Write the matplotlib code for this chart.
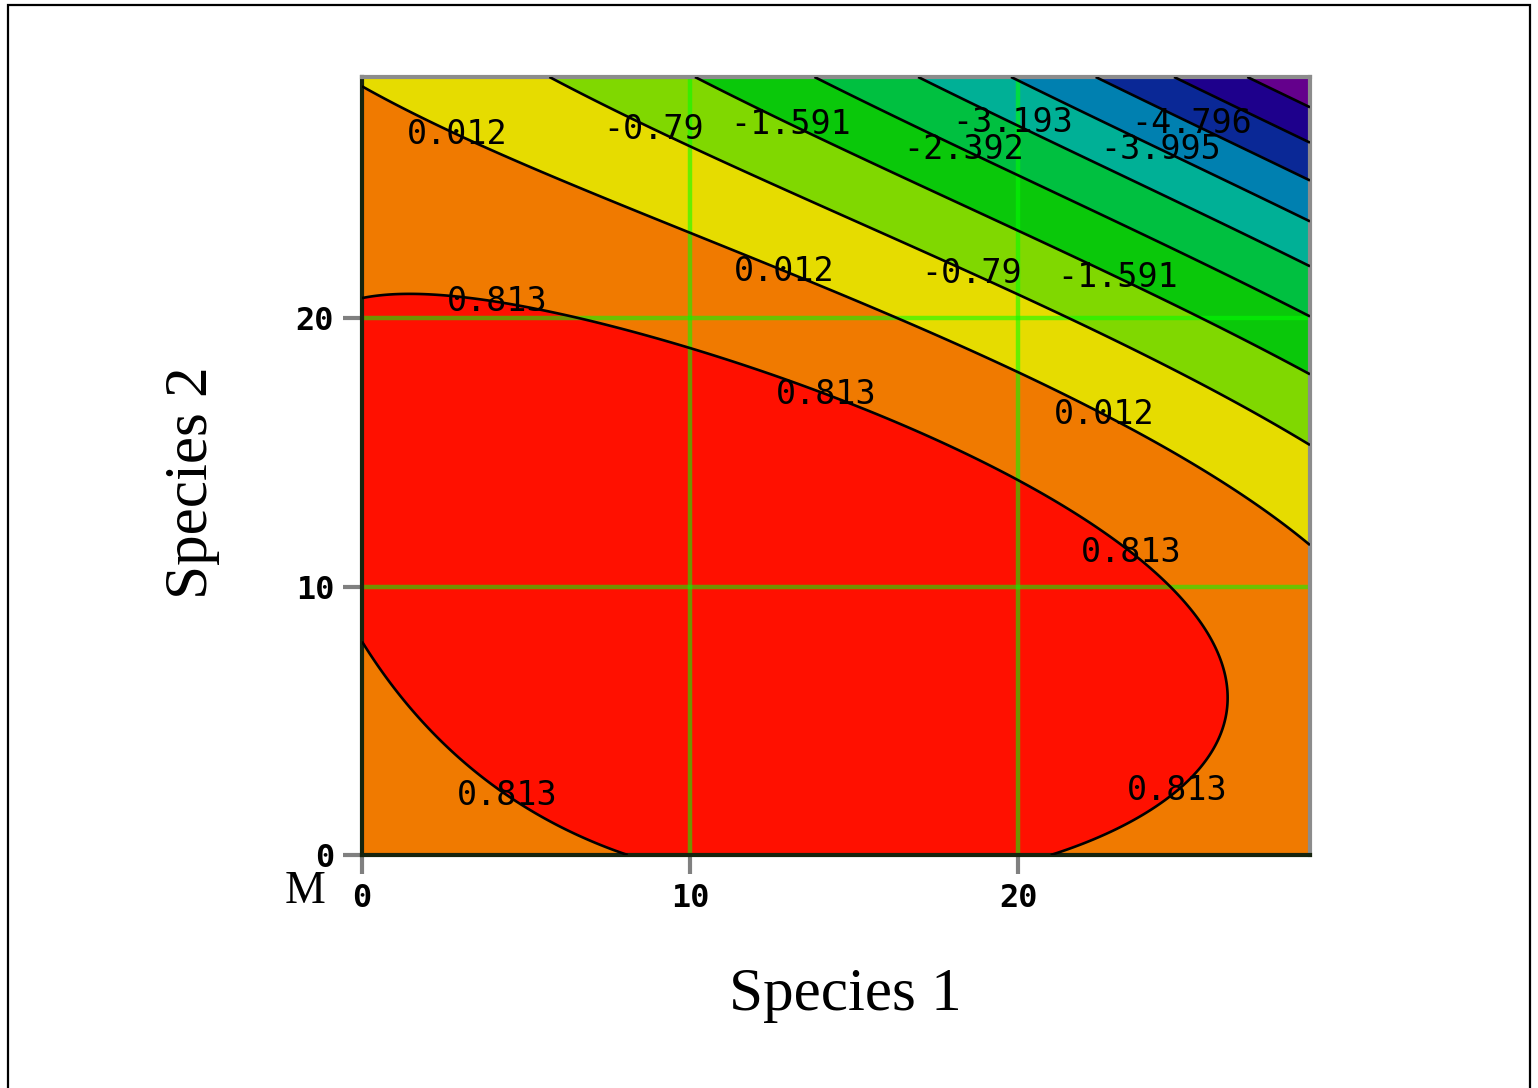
import numpy as np
import matplotlib
matplotlib.use("Agg")
import matplotlib.pyplot as plt
from matplotlib.patches import Rectangle

# Cubic response-surface model: z = sum(coef_i * term_i(x, y))
# terms: 1, x, y, x^2, xy, y^2, x^3, x^2y, xy^2, y^3
surface_coef = [8.86279099e-02, 1.23240847e-01, 1.22962174e-01,
                -4.13897226e-03, 1.44967022e-03, -3.86816282e-03,
                -4.16346358e-06, -2.12763665e-05, -3.20501850e-04,
                -1.80260730e-05]

x_range = [0.0, 28.9]
y_range = [0.0, 29.0]

contour_levels = [-6.398, -5.597, -4.796, -3.995, -3.193, -2.392,
                  -1.591, -0.79, 0.012, 0.813]
band_colors = ["#64008c", "#1e008c", "#0a2896", "#0080b0", "#00b096",
               "#00c040", "#0ac80a", "#80d800", "#e6dc00", "#f07a00",
               "#ff1000"]

# Where the level values are written on the contours
label_spots = [(2.99, 27.13), (8.93, 27.13), (13.11, 27.35), (18.38, 26.38),
               (19.85, 27.35), (25.34, 27.43), (24.39, 26.42), (12.90, 21.83),
               (18.60, 21.75), (23.05, 21.57), (4.15, 20.82), (14.21, 17.35),
               (22.71, 16.60), (23.63, 11.57), (4.54, 2.39), (24.85, 2.39)]

tick_values = [0, 10, 20]
x_label = "Species 1"
y_label = "Species 2"
corner_label = "M"


def surface(x, y):
    terms = [np.ones_like(x), x, y, x * x, x * y, y * y,
             x ** 3, x * x * y, x * y * y, y ** 3]
    return sum(c * t for c, t in zip(surface_coef, terms))


fig = plt.figure(figsize=(15.38, 10.88), dpi=100)
fig.patch.set_facecolor("white")
ax = fig.add_axes([362 / 1538, 1 - 855 / 1088, 948 / 1538, 778 / 1088])

gx, gy = np.meshgrid(np.linspace(*x_range, 400), np.linspace(*y_range, 400))
gz = surface(gx, gy)

ax.contourf(gx, gy, gz, levels=[-100] + contour_levels + [100],
            colors=band_colors, zorder=1)

# green reference grid
for v in tick_values[1:]:
    ax.axvline(v, color=(0.0, 1.0, 0.0), alpha=0.55, lw=3.2, zorder=2)
    ax.axhline(v, color=(0.0, 1.0, 0.0), alpha=0.55, lw=3.2, zorder=2)

cs = ax.contour(gx, gy, gz, levels=contour_levels, colors="black",
                linewidths=1.9, linestyles="solid", zorder=3)

ax.set_xlim(*x_range)
ax.set_ylim(*y_range)

ax.clabel(cs, inline=False, manual=label_spots, fmt=lambda v: f"{v:g}",
          fontsize=24, colors="black")
for t in ax.texts:
    t.set_rotation(0)
    t.set_family("DejaVu Sans Mono")
    t.set_zorder(4)

# frame
for side in ("left", "bottom"):
    ax.spines[side].set_color("#16240e")
    ax.spines[side].set_linewidth(3)
for side in ("top", "right"):
    ax.spines[side].set_color("#8c8c8c")
    ax.spines[side].set_linewidth(3)

ax.set_xticks(tick_values)
ax.set_yticks(tick_values)
ax.tick_params(direction="out", length=14, width=3, color="#808080",
               labelsize=23, pad=6)
for lab in ax.get_xticklabels() + ax.get_yticklabels():
    lab.set_family("DejaVu Sans Mono")
    lab.set_fontweight("bold")

fig.text(845 / 1538, 1 - 995 / 1088, x_label, family="Liberation Serif",
         fontsize=44, ha="center", va="center")
fig.text(192 / 1538, 1 - 483 / 1088, y_label, family="Liberation Serif",
         fontsize=44, ha="center", va="center", rotation=90)
fig.text(305 / 1538, 1 - 892 / 1088, corner_label, family="Liberation Serif",
         fontsize=33, ha="center", va="center")

# outer frame of the figure
fig.patches.append(Rectangle((8 / 1538, -0.01), 1522 / 1538, 1.01 - 5 / 1088,
                             transform=fig.transFigure, fill=False,
                             edgecolor="black", lw=1.6))

fig.savefig("out.png", dpi=100)
